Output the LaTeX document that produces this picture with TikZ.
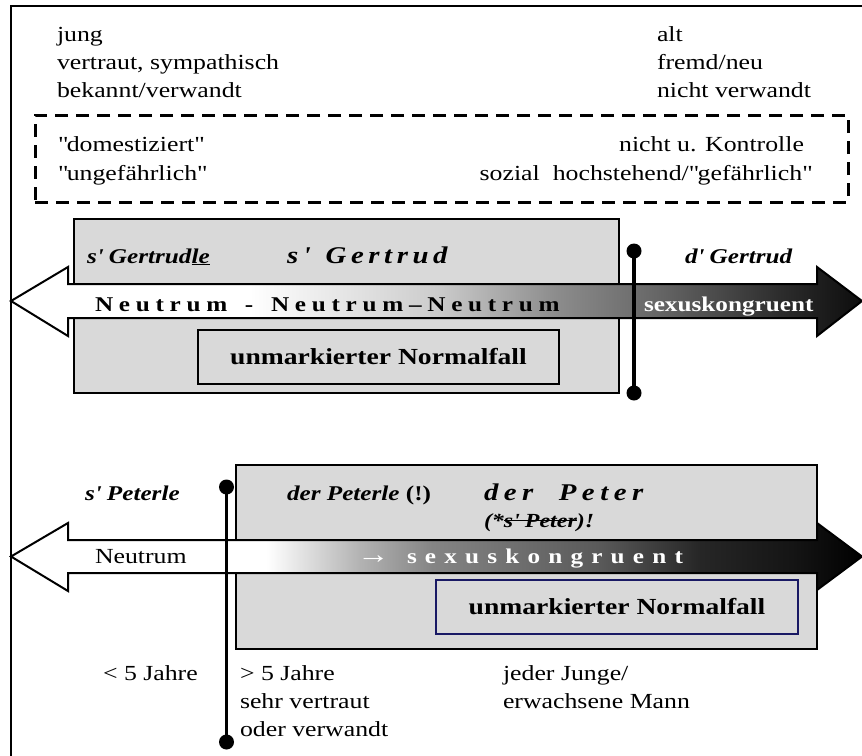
\documentclass[tikz,border=0pt]{standalone}
\usepackage{fontspec}
\setmainfont[FakeStretch=1.2]{Liberation Serif}
\definecolor{boxgray}{RGB}{217,217,217}
\definecolor{navyline}{RGB}{25,25,100}
\pgfdeclarehorizontalshading{upshade}{100bp}{color(0bp)=(white); color(39bp)=(white); color(50bp)=(black!20); color(57bp)=(black!45); color(63bp)=(black!60); color(70bp)=(black!82); color(75bp)=(black!95); color(100bp)=(black)}
\pgfdeclarehorizontalshading{lowshade}{100bp}{color(0bp)=(white); color(40bp)=(white); color(45.5bp)=(black!30); color(49.7bp)=(black!48); color(59.6bp)=(black!65); color(65.5bp)=(black!85); color(71bp)=(black!92); color(75bp)=(black); color(100bp)=(black)}
\makeatletter
\newcommand\spacedtext[2]{\@tfor\sp@c:=#2\do{\sp@c\kern#1}}
\makeatother
\newcommand\ap{\textquotesingle}
\newcommand\qd{\textquotedbl}
\newcommand\strk[1]{\setbox0=\hbox{#1}\rlap{\rule[0.3em]{\wd0}{0.07em}}\box0}
\begin{document}
\begin{tikzpicture}[x=1pt,y=-1pt,
  txt/.style={inner sep=0pt, outer sep=0pt, anchor=base west},
  reg/.style={txt, font=\fontsize{21.5}{26}\selectfont},
  regr/.style={inner sep=0pt, outer sep=0pt, anchor=base east, font=\fontsize{21.5}{26}\selectfont},
  bi/.style={txt, font=\fontsize{21}{26}\selectfont\bfseries\itshape},
  bibig/.style={txt, font=\fontsize{24}{28}\selectfont\bfseries\itshape},
  bismall/.style={txt, font=\fontsize{20}{24}\selectfont\bfseries\itshape},
  neut/.style={txt, font=\fontsize{21}{26}\selectfont\bfseries},
  sexw/.style={txt, text=white, font=\fontsize{21}{26}\selectfont\bfseries},
  graybox/.style={draw=black, line width=2pt, fill=boxgray, anchor=north west, inner sep=0pt, outer sep=0pt},
  normbox/.style={graybox, line width=2pt, font=\fontsize{23}{28}\selectfont\bfseries},
  dashbox/.style={draw=black, line width=3pt, dash pattern=on 13pt off 8pt, anchor=north west, inner sep=0pt, outer sep=0pt},
  dot/.style={circle, fill=black, inner sep=0pt, minimum size=15pt},
  bar/.style={line width=3.5pt},
  bigarrow/.style={draw=black, line width=2pt}
]
\useasboundingbox (0,0) rectangle (862,755);
\clip (0,0) rectangle (862,755);
% outer frame
\draw[line width=2.5pt] (11,780) -- (11,6) -- (890,6);

% top texts
\node[reg] (t1) at (57,41.5) {jung};
\node[reg] (t2) at (57,69.5) {vertraut, sympathisch};
\node[reg] (t3) at (57,97) {bekannt/verwandt};
\node[reg] (t4) at (657,41.5) {alt};
\node[reg] (t5) at (657,69.5) {fremd/neu};
\node[reg] (t6) at (657,97) {nicht verwandt};

% dashed box
\node[dashbox, minimum width=813pt, minimum height=87pt] (dbox) at (35,115) {};
\node[reg] (d1) at (58,151) {\qd domestiziert\qd};
\node[reg] (d2) at (58,180) {\qd ungefährlich\qd};
\node[regr] (d3) at (804,151) {nicht u. Kontrolle};
\node[regr] (d4) at (811,180) {sozial\ \ hochstehend/\qd gefährlich\qd};

% ===== upper section (Gertrud)
\node[graybox, minimum width=545pt, minimum height=174pt] (gbox1) at (74,219) {};
\shadedraw[shading=upshade, bigarrow]
  (11,301) -- (68,267) -- (68,284) -- (817,284) -- (817,267) -- (862,301)
  -- (817,336) -- (817,318) -- (68,318) -- (68,336) -- cycle;
\node[normbox, minimum width=361pt, minimum height=54pt] (nbox1) at (198,330) {unmarkierter Normalfall};
\node[bi] (sg1) at (87,263) {s\ap\ Gertrud\underline{le}};
\node[bibig] (sg2) at (287,263) {\spacedtext{0.19em}{s\ap{\ }Gertrud}};
\node[bi] (dg) at (685,263) {d\ap\ Gertrud};
\node[neut] (neu1) at (95,311.5) {\spacedtext{0.272em}{Neutrum{\ }-{\ }Neutrum–Neutrum}};
\node[sexw] (sx1) at (644,311) {sexuskongruent};
\node[dot] (v1t) at (634,251) {};
\node[dot] (v1b) at (634,393) {};
\draw[bar] (v1t.center) -- (v1b.center);

% ===== lower section (Peter)
\node[graybox, minimum width=581pt, minimum height=184pt] (gbox2) at (236,465) {};
\shadedraw[shading=lowshade, bigarrow]
  (11,556.5) -- (68,523) -- (68,540) -- (817,540) -- (817,523) -- (862,556.5)
  -- (817,590) -- (817,573) -- (68,573) -- (68,591) -- cycle;
\node[normbox, draw=navyline, minimum width=362pt, minimum height=54pt] (nbox2) at (436,580) {unmarkierter Normalfall};
\node[bi] (sp) at (85,500) {s\ap\ Peterle};
\node[bi] (dp) at (287,500) {der Peterle \textup{(!)}};
\node[bibig] (dpeter) at (484,500) {\spacedtext{0.23em}{der{\ \ }Peter}};
\node[bismall] (sps) at (484,527) {(*\strk{s\ap\ Peter})!};
\node[reg] (neu2) at (95,563) {Neutrum};
\node[sexw] (arr2) at (357,563) {\fontsize{27}{30}\selectfont\mdseries →};
\node[sexw] (sx2) at (407,563) {\spacedtext{0.39em}{sexuskongruent}};
\node[dot] (v2t) at (226.5,487) {};
\node[dot] (v2b) at (226.5,742) {};
\draw[bar] (v2t.center) -- (v2b.center);

% bottom texts
\node[reg] (b1) at (103,680) {< 5 Jahre};
\node[reg] (b2) at (240,680) {> 5 Jahre};
\node[reg] (b3) at (240,708) {sehr vertraut};
\node[reg] (b4) at (240,736) {oder verwandt};
\node[reg] (b5) at (503,680) {jeder Junge/};
\node[reg] (b6) at (503,708) {erwachsene Mann};
\end{tikzpicture}
\end{document}
